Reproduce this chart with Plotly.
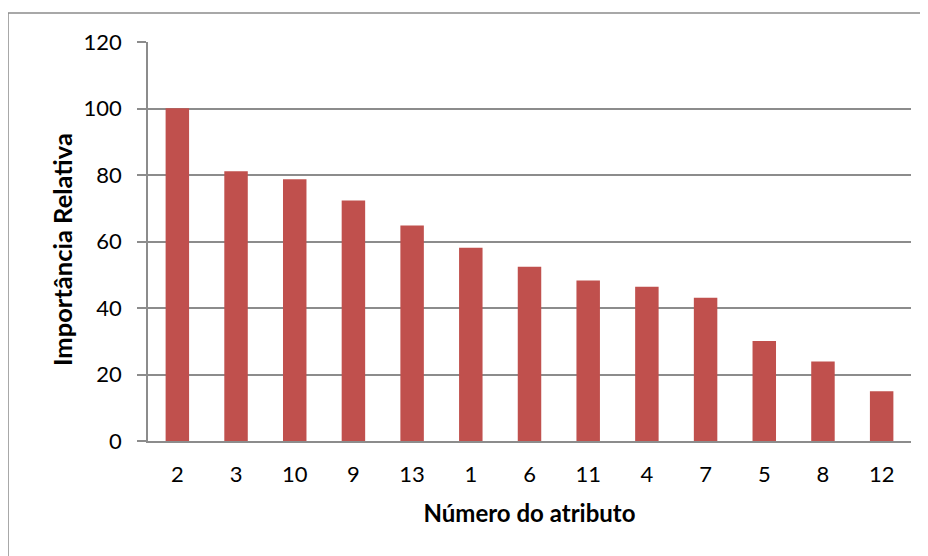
import plotly.graph_objects as go

categories = ["2", "3", "10", "9", "13", "1", "6", "11", "4", "7", "5", "8", "12"]
values = [100.1, 81.1, 78.7, 72.3, 64.8, 58.1, 52.4, 48.3, 46.4, 43.1, 30.1, 23.9, 15.0]

# page has an 8px body margin; figure occupies page pixels 8..928 x 8..556
OFF = 8
W, H = 928 - OFF, 556 - OFF
L, R, T, B = 148 - OFF, 17, 42 - OFF, 115
pw, ph = W - L - R, H - T - B

def px(x):  # page pixel -> paper
    return (x - OFF - L) / pw

def py(y):
    return (H - B - (y - OFF)) / ph

font_family = "Lato, 'Open Sans', sans-serif"

fig = go.Figure(go.Bar(x=categories, y=values, marker=dict(color="#C0504D", line=dict(width=0))))

fig.update_layout(
    width=W, height=H,
    margin=dict(l=L, r=R, t=T, b=B),
    paper_bgcolor="white", plot_bgcolor="white",
    bargap=0.6,
    showlegend=False,
    font=dict(family=font_family, color="black", size=22),
    xaxis=dict(
        type="category",
        showline=True, linecolor="#8c8c8c", linewidth=1.5,
        showgrid=False, ticks="",
        tickfont=dict(size=22),
        ticklabelstandoff=13,
        title=dict(text="<b>Número do atributo</b>", font=dict(size=24), standoff=19),
    ),
    yaxis=dict(
        range=[0, 120], dtick=20, tick0=0,
        showline=True, linecolor="#8c8c8c", linewidth=1.5,
        showgrid=True, gridcolor="#8c8c8c", gridwidth=1.5,
        ticks="outside", ticklen=9, tickcolor="#8c8c8c", tickwidth=1.5,
        tickfont=dict(size=22),
        ticklabelstandoff=11,
        zeroline=False,
    ),
    annotations=[
        dict(text="<b>Importância Relativa</b>", xref="paper", yref="paper",
             x=px(62), y=py(250), textangle=-90, showarrow=False,
             xanchor="center", yanchor="middle", font=dict(size=25.5)),
    ],
    shapes=[
        dict(type="rect", xref="paper", yref="paper",
             x0=px(8), x1=px(940), y0=py(13), y1=py(570),
             line=dict(color="#8c8c8c", width=1.5), layer="below"),
    ],
)

fig.write_html("out.html")
